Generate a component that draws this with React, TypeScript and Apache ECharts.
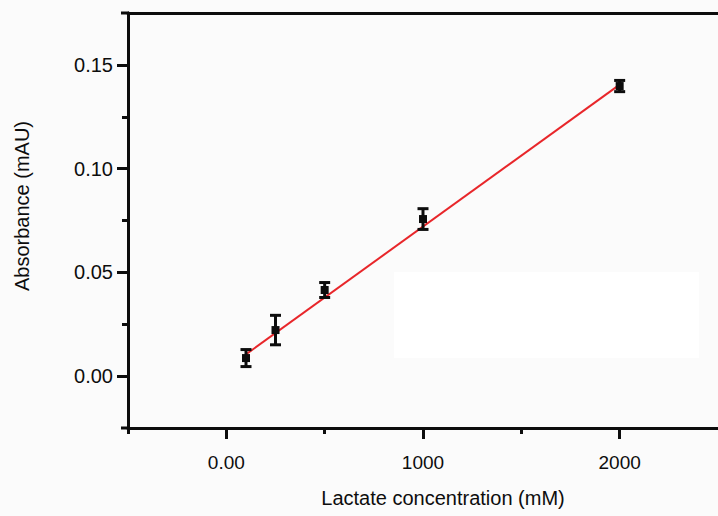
import React, { useEffect, useRef } from "react";
import * as echarts from "echarts";

const concentrations = [100, 250, 500, 1000, 2000];
const absorbance = [0.0087, 0.0222, 0.0415, 0.0757, 0.1398];
const errors = [0.0041, 0.0071, 0.0036, 0.005, 0.0027];
const fitX = [100, 2000];
const fitY = [0.0105, 0.1405];
const xMajorTicks = [0, 1000, 2000];
const xMinorTicks = [-500, 500, 1500];
const yMajorTicks = [0, 0.05, 0.1, 0.15];
const yMinorTicks = [0.025, 0.075, 0.125];

const FONT = "'Liberation Sans', Arial, sans-serif";
const INK = "#0d0d0d";

export default function App() {
  const ref = useRef<HTMLDivElement>(null);
  useEffect(() => {
    document.body.style.margin = "0";
    const chart = echarts.init(ref.current!, null, { renderer: "svg" });
    const axisLine = { show: true, onZero: false, lineStyle: { color: INK, width: 3 } };
    const pointData = concentrations.map((c, i) => [c, absorbance[i], errors[i]]);
    chart.setOption({
      animation: false,
      backgroundColor: "#fbfbfb",
      grid: { left: 128, right: 0, top: 13, bottom: 88, containLabel: false },
      xAxis: [
        {
          type: "value",
          min: -500,
          max: 2500,
          position: "bottom",
          axisLine,
          splitLine: { show: false },
          axisTick: { show: true, customValues: xMajorTicks, length: 11, lineStyle: { color: INK, width: 3 } },
          axisLabel: {
            customValues: xMajorTicks,
            formatter: (v: number) => (v === 0 ? "0.00" : String(v)),
            fontSize: 19,
            fontFamily: FONT,
            color: INK,
            margin: 25,
          },
        },
        {
          type: "value",
          min: -500,
          max: 2500,
          position: "bottom",
          axisLine: { show: false, onZero: false },
          splitLine: { show: false },
          axisTick: { show: true, customValues: xMinorTicks, length: 6, lineStyle: { color: INK, width: 3 } },
          axisLabel: { show: false },
        },
        {
          type: "value",
          min: -500,
          max: 2500,
          position: "top",
          axisLine,
          splitLine: { show: false },
          axisTick: { show: false },
          axisLabel: { show: false },
        },
      ],
      yAxis: [
        {
          type: "value",
          min: -0.025,
          max: 0.175,
          interval: 0.025,
          position: "left",
          axisLine,
          splitLine: { show: false },
          axisTick: { show: true, customValues: yMajorTicks, length: 11, lineStyle: { color: INK, width: 3 } },
          axisLabel: {
            customValues: yMajorTicks,
            formatter: (v: number) => v.toFixed(2),
            fontSize: 20,
            fontFamily: FONT,
            color: INK,
            margin: 15,
          },
        },
        {
          type: "value",
          min: -0.025,
          max: 0.175,
          interval: 0.025,
          position: "left",
          axisLine: { show: false, onZero: false },
          splitLine: { show: false },
          axisTick: { show: true, customValues: yMinorTicks, length: 6, lineStyle: { color: INK, width: 3 } },
          axisLabel: { show: false },
        },
      ],
      graphic: [
        {
          type: "rect",
          z: -1,
          shape: { x: 394, y: 272, width: 305, height: 86 },
          style: { fill: "#ffffff" },
        },
        {
          type: "line",
          shape: { x1: 121, y1: 13, x2: 129, y2: 13 },
          style: { stroke: INK, lineWidth: 3 },
        },
        {
          type: "line",
          shape: { x1: 121, y1: 428, x2: 129, y2: 428 },
          style: { stroke: INK, lineWidth: 3 },
        },
        {
          type: "text",
          x: 22,
          y: 206,
          rotation: Math.PI / 2,
          style: {
            text: "Absorbance (mAU)",
            fontSize: 20,
            fontFamily: FONT,
            fill: INK,
            align: "center",
            verticalAlign: "middle",
          },
        },
        {
          type: "text",
          x: 443,
          y: 498,
          style: {
            text: "Lactate concentration (mM)",
            fontSize: 20,
            fontFamily: FONT,
            fill: INK,
            align: "center",
            verticalAlign: "middle",
          },
        },
      ],
      series: [
        {
          type: "line",
          data: fitX.map((x, i) => [x, fitY[i]]),
          showSymbol: false,
          symbol: "none",
          lineStyle: { color: "#e8262a", width: 2 },
          z: 3,
        },
        {
          type: "custom",
          data: pointData,
          z: 4,
          renderItem: (params: any, api: any) => {
            const x = api.value(0);
            const y = api.value(1);
            const e = api.value(2);
            const p = api.coord([x, y]);
            const hi = api.coord([x, y + e]);
            const lo = api.coord([x, y - e]);
            const cw = 5.5;
            const st = { stroke: INK, lineWidth: 3 };
            return {
              type: "group",
              children: [
                { type: "line", shape: { x1: p[0], y1: hi[1], x2: p[0], y2: lo[1] }, style: st },
                { type: "line", shape: { x1: p[0] - cw, y1: hi[1], x2: p[0] + cw, y2: hi[1] }, style: st },
                { type: "line", shape: { x1: p[0] - cw, y1: lo[1], x2: p[0] + cw, y2: lo[1] }, style: st },
                { type: "rect", shape: { x: p[0] - 4, y: p[1] - 4, width: 8, height: 8 }, style: { fill: INK } },
              ],
            };
          },
        },
      ],
    });
    return () => chart.dispose();
  }, []);
  return <div ref={ref} style={{ position: "absolute", left: 0, top: 0, width: 718, height: 516 }} />;
}
